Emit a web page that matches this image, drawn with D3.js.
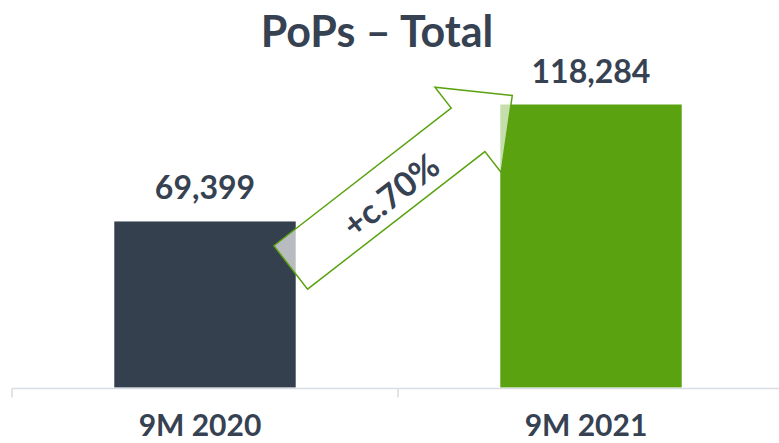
<!DOCTYPE html>
<html>
<head>
<meta charset="utf-8">
<script src="https://cdn.jsdelivr.net/npm/d3@7"></script>
<style>
  body { margin: 0; background: #fff; }
  svg { display: block; font-family: Lato, "Open Sans", sans-serif; }
</style>
</head>
<body>
<svg id="chart"></svg>
<script>
// chart data
const title = 'PoPs – Total'
const categories = ['9M 2020', '9M 2021']
const values = [69399, 118284]
const barColors = ['#35404f', '#5aa20f']
const growthLabel = '+c.70%'

const W = 779, H = 443
const textColor = '#364252'

const svg = d3.select('#chart').attr('width', W).attr('height', H)

// category bands (axis ticks sit on band edges) + inner band for bars
const xCat = d3.scaleBand().domain(categories).range([12, 784]).padding(0)
const xBar = d3.scaleBand().domain(categories).range([12, 784])
  .paddingInner(0.53).paddingOuter(0.265)
const y = d3.scaleLinear().domain([0, 130000]).range([387.5, 387.5 - 283 * 130000 / 118284])

// title
svg.append('text')
  .attr('x', 377).attr('y', 47)
  .attr('text-anchor', 'middle')
  .attr('font-size', 43).attr('font-weight', 700)
  .attr('fill', textColor)
  .text(title)

// bars
svg.selectAll('.bar').data(categories).join('rect')
  .attr('class', 'bar')
  .attr('x', d => xBar(d))
  .attr('width', xBar.bandwidth())
  .attr('y', (d, i) => y(values[i]))
  .attr('height', (d, i) => y(0) - y(values[i]))
  .attr('fill', (d, i) => barColors[i])

// value labels
svg.selectAll('.val').data(categories).join('text')
  .attr('class', 'val')
  .attr('x', d => xBar(d) + xBar.bandwidth() / 2)
  .attr('y', (d, i) => y(values[i]) - 22)
  .attr('text-anchor', 'middle')
  .attr('font-size', 32).attr('font-weight', 700)
  .attr('fill', textColor)
  .text((d, i) => d3.format(',')(values[i]))

// axis line and boundary ticks
const axisG = svg.append('g').attr('stroke', '#d9dee4').attr('stroke-width', 1.6)
axisG.append('line')
  .attr('x1', xCat.range()[0]).attr('x2', xCat.range()[1])
  .attr('y1', y(0) + 1).attr('y2', y(0) + 1)
const edges = categories.map(c => xCat(c)).concat([xCat.range()[1]])
axisG.selectAll('.tick').data(edges).join('line')
  .attr('x1', d => d).attr('x2', d => d)
  .attr('y1', y(0) + 1).attr('y2', y(0) + 10)

// category labels
svg.selectAll('.cat').data(categories).join('text')
  .attr('class', 'cat')
  .attr('x', d => xCat(d) + xCat.bandwidth() / 2 - 5)
  .attr('y', 436)
  .attr('text-anchor', 'middle')
  .attr('font-size', 30).attr('font-weight', 700)
  .attr('fill', textColor)
  .text(d => d)

// growth arrow from first bar to second bar
const tail = [xBar(categories[0]) + xBar.bandwidth() - 5, y(values[0]) + 46]
const tip = [xBar(categories[1]) + 12, y(values[1]) - 9]
const dx = tip[0] - tail[0], dy = tip[1] - tail[1]
const len = Math.hypot(dx, dy)
const ang = Math.atan2(dy, dx) * 180 / Math.PI
const shaftW = 27.5, headL = 56, headW = 54
const shape = [
  [0, -shaftW], [len - headL, -shaftW], [len - headL, -headW], [len, 0],
  [len - headL, headW], [len - headL, shaftW], [0, shaftW]
]
const arrow = svg.append('g')
  .attr('transform', `translate(${tail[0]},${tail[1]}) rotate(${ang})`)
arrow.append('path')
  .attr('d', d3.line()(shape) + 'Z')
  .attr('fill', '#fff').attr('fill-opacity', 0.65)
  .attr('stroke', '#5aa20f').attr('stroke-width', 1.5)
  .attr('stroke-linejoin', 'miter')
arrow.append('text')
  .attr('x', len * 0.44).attr('y', 3)
  .attr('text-anchor', 'middle')
  .attr('dominant-baseline', 'central')
  .attr('font-size', 34).attr('font-weight', 700)
  .attr('fill', textColor)
  .text(growthLabel)
</script>
</body>
</html>
